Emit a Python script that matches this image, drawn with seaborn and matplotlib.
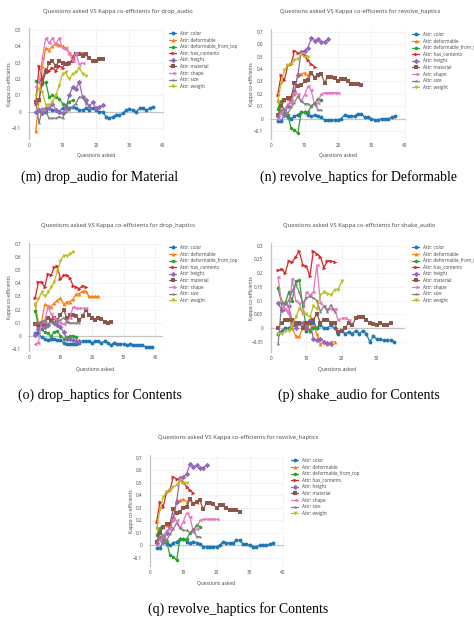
import matplotlib
matplotlib.use("Agg")
import numpy as np
import pandas as pd
import seaborn as sns
import matplotlib.pyplot as plt
from matplotlib.lines import Line2D

# attributes shown in every panel
ATTRS = ["color", "deformable", "deformable_from_top", "has_contents", "height",
         "material", "shape", "size", "weight"]
LABELS = ["Attr: " + a for a in ATTRS]
FIRST_Q = 2  # every series starts at question 2

# kappa values per attribute, one list per question asked (from FIRST_Q on)
drop_audio = {
    "color": [0.00, 0.01, -0.01, 0.00, 0.02, 0.01, 0.01, 0.00, 0.02, 0.03, 0.02, 0.03,
              0.02, 0.01, 0.01, 0.02, 0.01, 0.02, 0.01, 0.00, 0.00, -0.03, -0.04, -0.03,
              -0.02, -0.02, -0.01, 0.01, 0.015, 0.01, 0.00, 0.02, 0.025, 0.01, 0.02, 0.03],
    "deformable": [-0.12, 0.07, 0.28, 0.39, 0.38, 0.40, 0.42, 0.41, 0.40, 0.39, 0.36,
                   0.34, 0.36, 0.36, 0.36, 0.35],
    "deformable_from_top": [0.19, 0.18, 0.17, 0.18, 0.09, 0.10, 0.09, 0.08, 0.05, 0.04,
                            0.06, 0.07],
    "has_contents": [0.05, 0.28, 0.20, 0.26, 0.25, 0.27, 0.25, 0.28, 0.27, 0.30, 0.29,
                     0.33, 0.36, 0.35, 0.35],
    "height": [0.00, 0.01, -0.01, 0.02, 0.02, 0.05, 0.01, 0.00, -0.01, 0.02, 0.10, 0.15,
               0.14, 0.18, 0.09, 0.07, 0.03, 0.06, 0.02, 0.03, 0.04],
    "material": [0.06, 0.07, 0.18, 0.24, 0.30, 0.31, 0.28, 0.31, 0.30, 0.29, 0.30, 0.31,
                 0.35, 0.35, 0.34, 0.35, 0.33, 0.31, 0.31, 0.32, 0.32],
    "shape": [0.15, 0.18, 0.33, 0.45, 0.42, 0.45, 0.41, 0.45, 0.39, 0.39, 0.36, 0.31,
              0.36, 0.29, 0.30],
    "size": [0.06, -0.07, 0.02, 0.00, -0.04, -0.04, -0.04, -0.03, -0.04, 0.00, 0.01,
             0.03, 0.05, 0.09, 0.09, 0.05, 0.04],
    "weight": [0.10, 0.14, 0.12, 0.04, 0.04, 0.06, 0.10, 0.16, 0.23, 0.24, 0.20, 0.23,
               0.24, 0.27, 0.23, 0.22],
}

revolve_haptics = {
    "color": [-0.02, -0.02, 0.03, 0.01, 0.00, 0.02, 0.03, 0.05, 0.05, 0.03, 0.02, 0.03,
              0.02, 0.01, -0.01, -0.01, -0.01, -0.01, -0.01, 0.00, 0.03, 0.02, 0.02, 0.02,
              0.04, 0.04, 0.01, 0.01, 0.00, -0.01, -0.01, 0.00, 0.00, 0.00, 0.01, 0.02],
    "deformable": [0.15, 0.11, 0.15, 0.16, 0.18, 0.20, 0.36, 0.36, 0.37, 0.35, 0.37,
                   0.34, 0.35],
    "deformable_from_top": [0.08, 0.14, 0.05, 0.03, -0.08, -0.09, -0.12, 0.05, 0.05,
                            0.05, 0.10, 0.12, 0.16, 0.15],
    "has_contents": [0.19, 0.35, 0.31, 0.43, 0.44, 0.55, 0.53, 0.53, 0.51, 0.47, 0.44,
                     0.42],
    "height": [0.02, 0.05, 0.03, 0.10, 0.15, 0.22, 0.35, 0.54, 0.55, 0.57, 0.65, 0.63,
               0.64, 0.62, 0.62, 0.64],
    "material": [0.03, 0.10, 0.15, 0.17, 0.17, 0.29, 0.26, 0.27, 0.30, 0.31, 0.37, 0.33,
                 0.35, 0.36, 0.29, 0.34, 0.34, 0.33, 0.30, 0.32, 0.32, 0.30, 0.28, 0.28,
                 0.28, 0.27],
    "shape": [0.00, 0.05, 0.07, 0.12, 0.13, 0.21, 0.20, 0.14, 0.19, 0.26, 0.23, 0.11,
              0.13, 0.20, 0.21, 0.21, 0.21, 0.21, 0.21],
    "size": [0.02, 0.07, 0.08, 0.04, 0.09, 0.13, 0.18, 0.14, 0.12, 0.12, 0.10, 0.13,
             0.07, 0.07],
    "weight": [0.13, 0.29, 0.39, 0.43, 0.44, 0.47, 0.48, 0.52, 0.50, 0.50],
}

drop_haptics = {
    "color": [0.02, 0.02, -0.01, -0.02, -0.03, -0.02, -0.02, -0.03, -0.03, -0.05, -0.06,
              -0.06, -0.06, -0.06, -0.05, -0.04, -0.04, -0.04, -0.05, -0.04, -0.04, -0.05,
              -0.04, -0.05, -0.07, -0.05, -0.06, -0.06, -0.06, -0.07, -0.06, -0.07, -0.07,
              -0.07, -0.07, -0.08, -0.08, -0.08],
    "deformable": [0.24, 0.10, 0.11, 0.24, 0.23, 0.22, 0.25, 0.27, 0.29, 0.24, 0.26,
                   0.26, 0.28, 0.32, 0.32, 0.34, 0.34, 0.30, 0.30, 0.30, 0.30],
    "deformable_from_top": [0.19, 0.07, 0.05, 0.03, 0.02, 0.00, 0.03, 0.04, 0.00, -0.02,
                            -0.01, 0.00, 0.00, -0.01],
    "has_contents": [0.29, 0.41, 0.41, 0.37, 0.47, 0.46, 0.52, 0.53, 0.43, 0.46, 0.46,
                     0.44, 0.38, 0.37, 0.36, 0.38, 0.37],
    "height": [0.01, 0.05, 0.08, 0.07, 0.08, 0.12, 0.10, 0.08, 0.07, 0.03, -0.02, -0.02,
               -0.03, -0.04, -0.04],
    "material": [0.09, 0.08, 0.09, 0.10, 0.14, 0.12, 0.14, 0.12, 0.16, 0.20, 0.14, 0.16,
                 0.16, 0.15, 0.12, 0.15, 0.20, 0.16, 0.14, 0.12, 0.14, 0.13, 0.11, 0.10,
                 0.11],
    "shape": [-0.06, -0.05, 0.11, 0.11, 0.22, 0.17, 0.14, 0.12, 0.10, 0.09, 0.11, 0.14,
              0.22, 0.21, 0.21, 0.21, 0.21],
    "size": [0.09, 0.10, 0.11, 0.12, 0.08, 0.11, 0.10, 0.11, 0.12, 0.14, 0.11, 0.10,
             0.10, 0.10, 0.10],
    "weight": [0.24, 0.28, 0.33, 0.30, 0.33, 0.37, 0.41, 0.49, 0.57, 0.61, 0.61, 0.62,
               0.64],
}

shake_audio = {
    "color": [-0.02, -0.01, 0.00, 0.00, 0.01, 0.01, 0.02, 0.02, -0.01, 0.02, 0.02, 0.00,
              0.01, 0.00, 0.00, 0.01, 0.00, -0.02, -0.01, -0.02, -0.015, -0.02, -0.01,
              -0.02, -0.01, -0.02, -0.05, -0.03, -0.04, -0.04, -0.045, -0.045, -0.045,
              -0.05],
    "deformable": [0.15, 0.10, 0.07, 0.06, 0.00, -0.03, -0.03, 0.00, 0.02, -0.01, 0.01,
                   -0.02, -0.06, -0.05, -0.06, -0.05, -0.05],
    "deformable_from_top": [0.145, 0.09, 0.09, 0.13, 0.10, 0.17, 0.175, 0.08, 0.00,
                            -0.01, 0.00, 0.00, 0.02],
    "has_contents": [0.21, 0.215, 0.20, 0.245, 0.24, 0.26, 0.28, 0.23, 0.225, 0.19,
                     0.28, 0.27, 0.26, 0.22, 0.245, 0.245, 0.24],
    "height": [0.09, 0.065, 0.09, 0.08, 0.02, 0.00, 0.02, 0.02, 0.00, 0.03, -0.04,
               -0.045, -0.04, -0.05, -0.055, -0.06],
    "material": [0.00, 0.02, 0.03, 0.03, 0.03, 0.02, 0.02, 0.00, 0.02, 0.02, 0.03, 0.05,
                 0.02, 0.03, 0.03, 0.02, 0.02, -0.015, -0.01, 0.00, 0.02, 0.01, 0.035,
                 0.04, 0.04, 0.03, 0.02, 0.015, 0.01, 0.02, 0.01, 0.01, 0.02],
    "shape": [0.185, 0.09, 0.07, 0.05, 0.18, 0.10, 0.09, 0.05, 0.13, 0.12, 0.13, 0.23,
              0.09, 0.08, 0.07, 0.07, 0.07, 0.03, 0.035, 0.035, 0.03],
    "size": [-0.06, 0.09, 0.09, 0.10, 0.135, 0.16, 0.13, 0.09, 0.11, 0.115, 0.11, 0.10,
             0.06, 0.08, 0.06, 0.085, 0.06],
    "weight": [-0.02, -0.02, -0.01, -0.01, 0.01, 0.04, 0.07, 0.06, 0.05, 0.04, 0.08,
               0.07, 0.12, 0.13, 0.125, 0.12, 0.14, 0.14, 0.17],
}

COLORS = ["#1f77b4", "#ff7f0e", "#2ca02c", "#d62728", "#9467bd",
          "#8c564b", "#e377c2", "#7f7f7f", "#bcbd22"]
MARKERS = ["o", "^", "h", ">", "D", "s", "<", "*", "v"]

W, H = 474, 623
FONT = ["Open Sans", "DejaVu Sans"]
TXT = "#444444"

sns.set_style("white")
plt.rcParams["font.family"] = FONT

fig = plt.figure(figsize=(W / 100, H / 100), dpi=100)


def fx(x):
    return x / W


def fy(y):
    return 1 - y / H


def to_frame(series):
    rows = []
    for attr in ATTRS:
        for i, v in enumerate(series[attr]):
            rows.append(("Attr: " + attr, FIRST_Q + i, v))
    return pd.DataFrame(rows, columns=["attr", "questions", "kappa"])


def fmt(v):
    s = f"{v:.2f}".rstrip("0").rstrip(".")
    if s in ("-0", "0"):
        return "0"
    return s.replace("-", "\u2212")


def panel(data, name, box, xhi, ylim, ystep, legend_xy, ylab_x, xlab_y):
    x0, y0, x1, y1 = box
    ax = fig.add_axes([fx(x0), fy(y1), (x1 - x0) / W, (y1 - y0) / H])
    df = to_frame(data)
    palette = dict(zip(LABELS, COLORS))
    markers = dict(zip(LABELS, MARKERS))
    ax.axhline(0, color="#c4c4c4", lw=0.9, zorder=1)
    ax.axvline(0, color="#c4c4c4", lw=0.9, zorder=1)
    sns.lineplot(data=df, x="questions", y="kappa", hue="attr", style="attr",
                 hue_order=LABELS, style_order=LABELS, palette=palette,
                 markers=markers, dashes=False, errorbar=None, legend=False,
                 linewidth=0.9, markersize=2.8, markeredgewidth=0, ax=ax, zorder=3)
    ax.set_xlim(-0.3, xhi)
    ax.set_ylim(*ylim)
    ax.set_xticks([0, 10, 20, 30, 40] if xhi > 40 else [0, 10, 20, 30])
    yt = np.round(np.arange(np.ceil(ylim[0] / ystep) * ystep, ylim[1] + 1e-9, ystep), 3)
    ax.set_yticks(yt)
    ax.set_yticklabels([fmt(v) for v in yt])
    ax.set_xticklabels([str(v) for v in ax.get_xticks().astype(int)])
    ax.grid(True, color="#eeeeee", lw=0.5)
    ax.set_axisbelow(True)
    for s in ax.spines.values():
        s.set_visible(False)
    ax.tick_params(length=0, labelsize=3.3, labelcolor=TXT)
    ax.tick_params(axis="y", pad=5)
    ax.tick_params(axis="x", pad=2)
    ax.set_xlabel("")
    ax.set_ylabel("")
    fig.text(fx(ylab_x), fy((y0 + y1) / 2), "Kappa co-efficients", rotation=90,
             ha="center", va="center", fontsize=3.6, color=TXT)
    fig.text(fx((x0 + x1) / 2), fy(xlab_y), "Questions asked", ha="center",
             va="center", fontsize=3.6, color=TXT)
    handles = [Line2D([0], [0], color=c, marker=m, lw=0.9, markersize=2.8,
                      markeredgewidth=0) for c, m in zip(COLORS, MARKERS)]
    ax.legend(handles, LABELS, loc="upper left",
              bbox_to_anchor=(fx(legend_xy[0]), fy(legend_xy[1])),
              bbox_transform=fig.transFigure, frameon=False, fontsize=3.3,
              handlelength=1.6, handletextpad=0.7, labelspacing=0.35,
              borderpad=0, borderaxespad=0, labelcolor=TXT)
    title_x = (x0 + x1) / 2 + 22
    fig.text(fx(title_x), fy(y0 - 17), "Questions asked VS Kappa co-efficients for " + name,
             ha="center", va="center", fontsize=4.2, color=TXT)
    return ax


panel(drop_audio, "drop_audio", (28, 28, 164, 140), 40.3, (-0.173, 0.512), 0.1,
      (169, 31), 10, 156)
panel(revolve_haptics, "revolve_haptics", (270, 29, 406, 140), 40.3, (-0.173, 0.724), 0.1,
      (412, 32), 252, 156)
panel(drop_haptics, "drop_haptics", (28, 243, 163, 352), 42.5, (-0.121, 0.705), 0.1,
      (169, 245), 10, 370)
panel(shake_audio, "shake_audio", (270, 243, 405, 353), 38, (-0.091, 0.31), 0.05,
      (412, 245), 252, 370)
panel(revolve_haptics, "revolve_haptics", (149, 455, 284, 567), 40.3, (-0.173, 0.724), 0.1,
      (291, 458), 131, 583)

captions = [("(m) drop_audio for Material", 100, 177),
            ("(n) revolve_haptics for Deformable", 358, 177),
            ("(o) drop_haptics for Contents", 100, 395),
            ("(p) shake_audio for Contents", 359, 395),
            ("(q) revolve_haptics for Contents", 238, 609)]
for text, cx, cy in captions:
    fig.text(fx(cx), fy(cy), text, ha="center", va="center", fontsize=10,
             family=["Liberation Serif", "DejaVu Serif"], color="black")

fig.savefig("out.png", dpi=100)
